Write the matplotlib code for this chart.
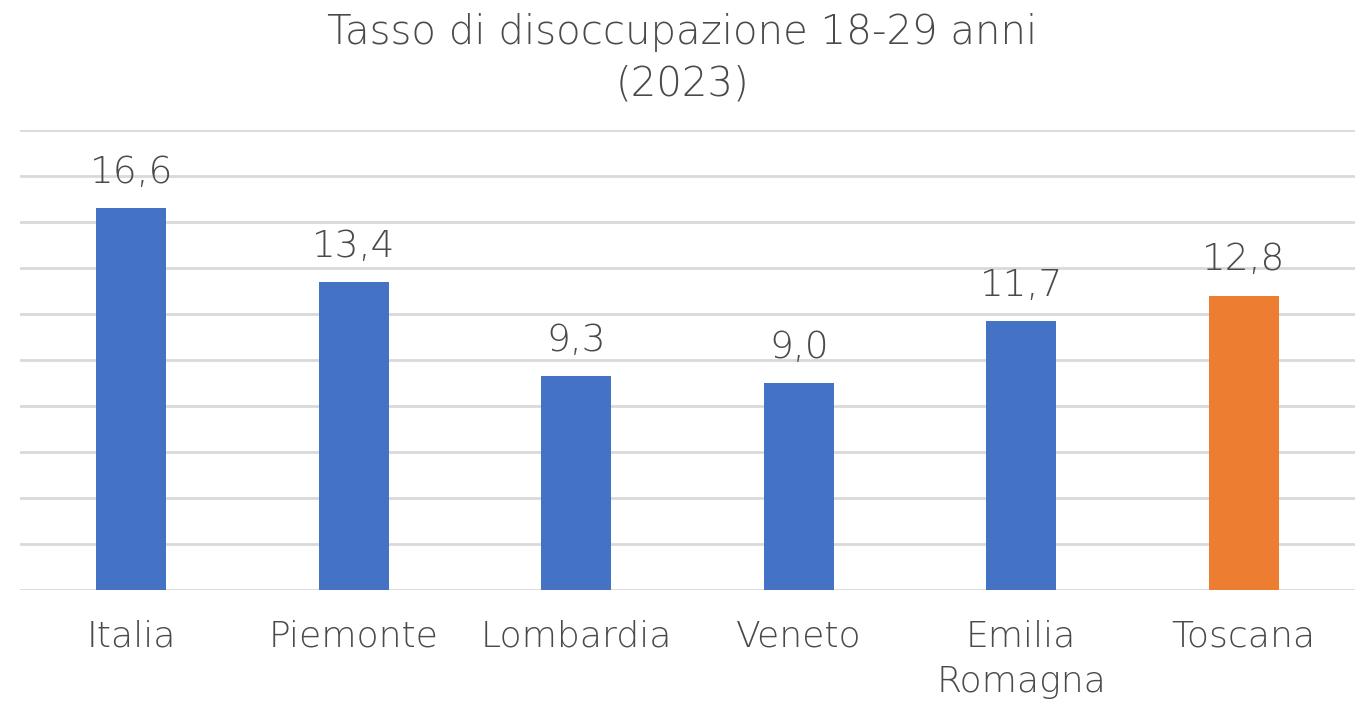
import matplotlib.pyplot as plt
import numpy as np

regions = ["Italia", "Piemonte", "Lombardia", "Veneto", "Emilia\nRomagna", "Toscana"]
values = [16.6, 13.4, 9.3, 9.0, 11.7, 12.8]
colors = ["#4472C4", "#4472C4", "#4472C4", "#4472C4", "#4472C4", "#ED7D31"]

plt.rcParams['font.family'] = ['DejaVu Sans']
text_color = "#4a4a4a"

fig = plt.figure(figsize=(13.64, 7.01), dpi=100)
ax = fig.add_axes([0.0147, 0.158, 0.9787, 0.6566])

x = np.arange(len(regions))
bars = ax.bar(x, values, width=0.315, color=colors, zorder=3)

# value labels above bars
for xi, v in zip(x, values):
    ax.text(xi, v + 1.1, f"{v:.1f}".replace(".", ","), ha="center", va="baseline",
            fontsize=27, color=text_color, fontweight="light")

ax.set_xlim(-0.5, len(regions) - 0.5)
ax.set_ylim(0, 20)
ax.set_yticks(np.arange(0, 21, 2))
ax.yaxis.grid(True, color="#d9d9d9", linewidth=2, zorder=0)
ax.tick_params(axis="y", left=False, labelleft=False)
ax.tick_params(axis="x", length=0, pad=21, labelsize=26, labelcolor=text_color)
ax.set_xticks(x)
ax.set_xticklabels(regions, linespacing=1.42, fontweight="light")
for s in ax.spines.values():
    s.set_visible(False)

fig.text(0.5, 0.982, "Tasso di disoccupazione 18-29 anni\n(2023)", ha="center", va="top",
         fontsize=29, color=text_color, linespacing=1.42, fontweight="light")

fig.savefig("out.png", dpi=100)
